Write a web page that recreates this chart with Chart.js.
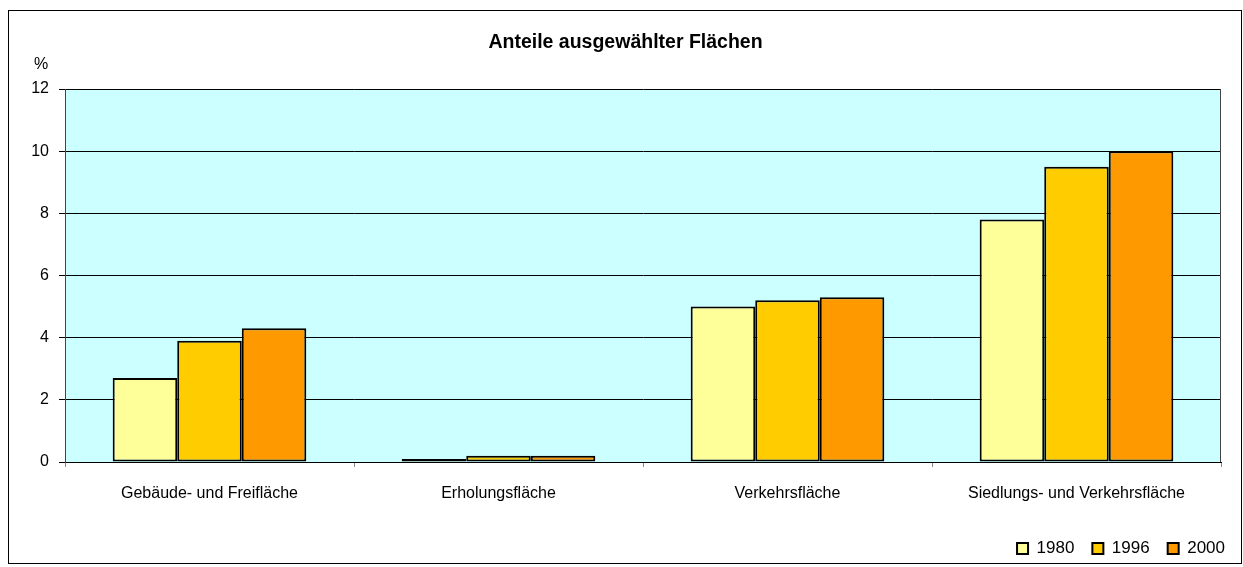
<!DOCTYPE html>
<html>
<head>
<meta charset="utf-8">
<style>
  html, body { margin: 0; padding: 0; background: #fff; }
  #wrap { width: 1243px; height: 567px; }
</style>
<script src="https://cdn.jsdelivr.net/npm/chart.js@4"></script>
</head>
<body>
<div id="wrap"><canvas id="chart" width="1243" height="567"></canvas></div>
<script>
const categories = ['Gebäude- und Freifläche', 'Erholungsfläche', 'Verkehrsfläche', 'Siedlungs- und Verkehrsfläche'];
const years = ['1980', '1996', '2000'];
const values1980 = [2.7, 0.1, 5.0, 7.8];
const values1996 = [3.9, 0.2, 5.2, 9.5];
const values2000 = [4.3, 0.2, 5.3, 10.0];
const yTicks = [0, 2, 4, 6, 8, 10, 12];

const FONT = '"Liberation Sans", Arial, sans-serif';

// cyan plot background + outer frame + "%" label
const decor = {
  id: 'decor',
  beforeDraw(chart) {
    const { ctx, chartArea: a } = chart;
    ctx.save();
    ctx.fillStyle = '#ccffff';
    ctx.fillRect(a.left, a.top, a.right - a.left, a.bottom - a.top);
    ctx.restore();
  },
  afterDraw(chart) {
    const { ctx, chartArea: a } = chart;
    ctx.save();
    ctx.strokeStyle = '#000';
    ctx.lineWidth = 1;
    ctx.strokeRect(8.5, 10.5, 1233, 553);
    ctx.strokeStyle = '#444';
    ctx.beginPath();
    ctx.moveTo(a.right - 0.5, a.top);
    ctx.lineTo(a.right - 0.5, a.bottom);
    ctx.stroke();
    ctx.fillStyle = '#000';
    ctx.font = '16px ' + FONT;
    ctx.textAlign = 'center';
    ctx.textBaseline = 'middle';
    ctx.fillText('%', 41, 65);
    ctx.restore();
  }
};

const ctx = document.getElementById('chart').getContext('2d');
new Chart(ctx, {
  type: 'bar',
  data: {
    labels: categories,
    datasets: [
      { label: years[0], data: values1980, backgroundColor: '#ffff99' },
      { label: years[1], data: values1996, backgroundColor: '#ffcc00' },
      { label: years[2], data: values2000, backgroundColor: '#ff9900' }
    ].map(d => Object.assign(d, {
      borderColor: '#000',
      borderWidth: 2,
      borderSkipped: false,
      categoryPercentage: 0.67,
      barPercentage: 1
    }))
  },
  options: {
    responsive: false,
    animation: false,
    layout: { padding: { left: 8, right: 0, top: 10, bottom: 0 } },
    plugins: {
      title: {
        display: true,
        text: 'Anteile ausgewählter Flächen',
        color: '#000',
        font: { family: FONT, size: 19.5, weight: 'bold' },
        padding: { top: 21, bottom: 34.6 }
      },
      legend: {
        position: 'bottom',
        align: 'end',
        labels: {
          color: '#000',
          font: { family: FONT, size: 17 },
          boxWidth: 11,
          boxHeight: 11,
          padding: 18,
          generateLabels(chart) {
            return chart.data.datasets.map((d, i) => ({
              text: d.label,
              fillStyle: d.backgroundColor,
              strokeStyle: '#000',
              lineWidth: 2,
              datasetIndex: i
            }));
          }
        }
      },
      tooltip: { enabled: false }
    },
    scales: {
      x: {
        grid: { display: true, drawOnChartArea: false, offset: true, color: '#888', tickLength: 5 },
        border: { display: true, color: '#000', width: 1 },
        ticks: { color: '#000', font: { family: FONT, size: 16 }, padding: 17, maxRotation: 0 },
        afterFit(s) { s.height = 60; }
      },
      y: {
        min: 0,
        max: 12,
        afterBuildTicks(s) { s.ticks = yTicks.map(v => ({ value: v })); },
        grid: { color: '#000', tickLength: 6, lineWidth: 1 },
        border: { display: true, color: '#444', width: 1 },
        ticks: { color: '#000', font: { family: FONT, size: 16 }, padding: 10 },
        afterFit(s) { s.width = 57; }
      },
      // empty right-hand spacer so the plot ends where the original does
      yRight: {
        position: 'right',
        min: 0,
        max: 12,
        grid: { display: false },
        border: { display: false },
        ticks: { display: false },
        afterFit(s) { s.width = 22; }
      }
    }
  },
  plugins: [decor]
});
</script>
</body>
</html>
